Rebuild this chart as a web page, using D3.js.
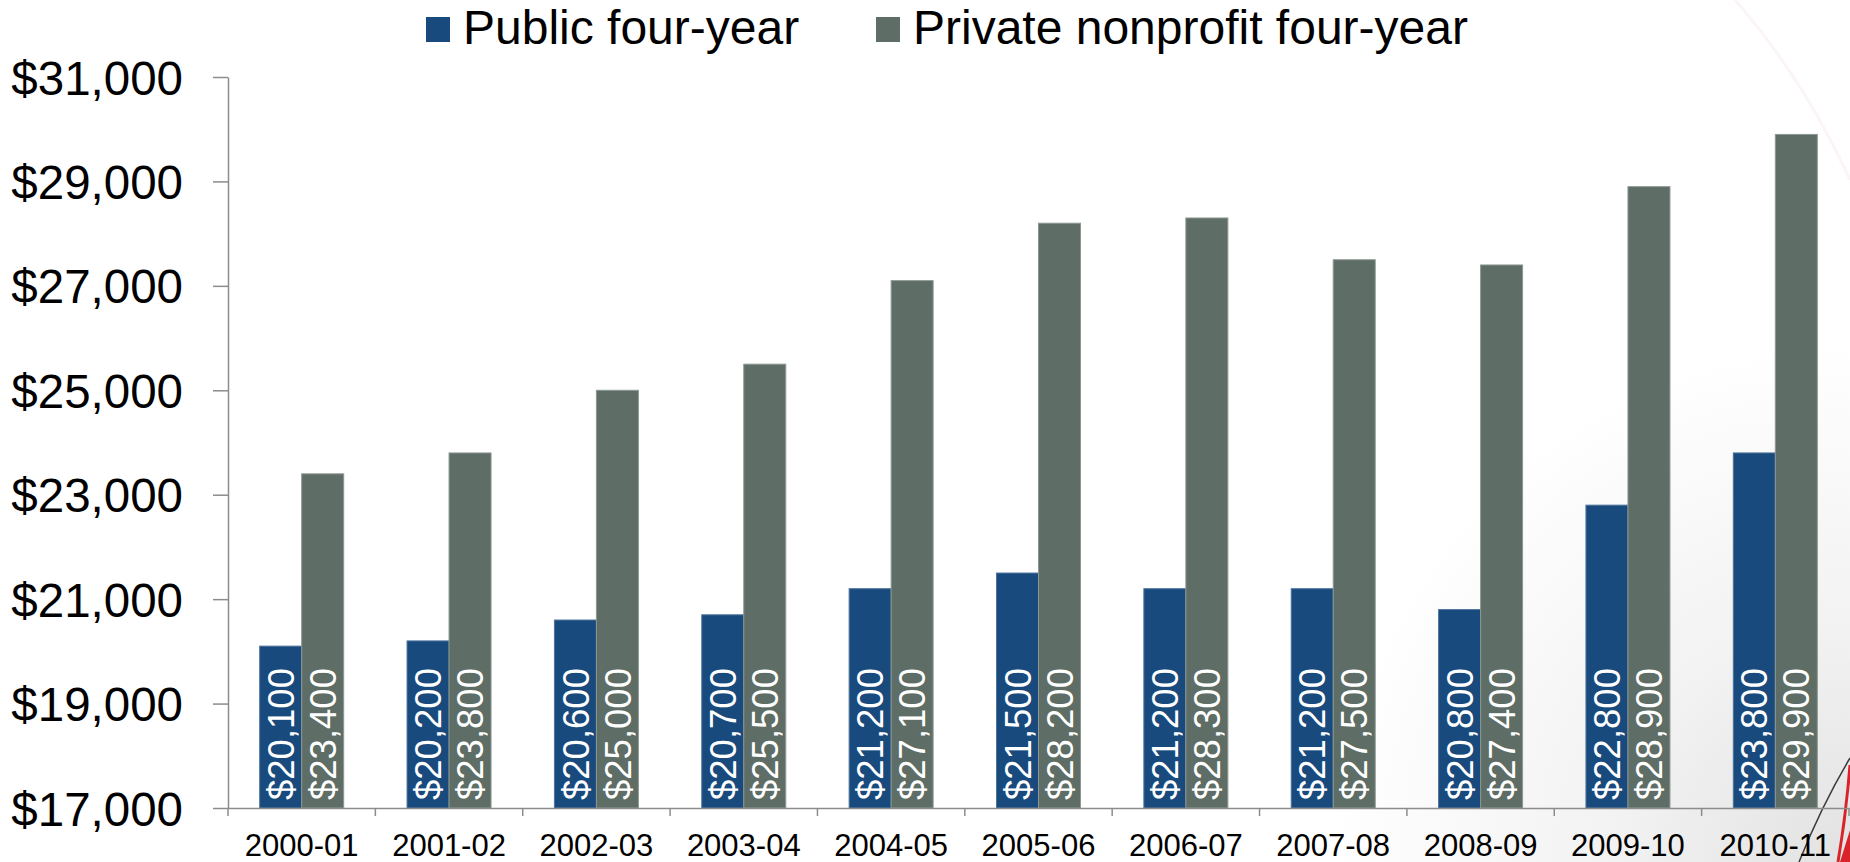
<!DOCTYPE html>
<html>
<head>
<meta charset="utf-8">
<script src="https://cdn.jsdelivr.net/npm/d3@7"></script>
<style>
  html, body { margin: 0; padding: 0; background: #ffffff; }
  svg { display: block; }
  text { font-family: "Liberation Sans", Arial, sans-serif; }
</style>
</head>
<body>
<svg id="chart" width="1850" height="862"></svg>
<script>
// Average published tuition, fees, room and board by academic year
const years = ["2000-01", "2001-02", "2002-03", "2003-04", "2004-05", "2005-06",
               "2006-07", "2007-08", "2008-09", "2009-10", "2010-11"];
const publicFourYear  = [20100, 20200, 20600, 20700, 21200, 21500, 21200, 21200, 20800, 22800, 23800];
const privateFourYear = [23400, 23800, 25000, 25500, 27100, 28200, 28300, 27500, 27400, 28900, 29900];
const seriesNames = ["Public four-year", "Private nonprofit four-year"];
const yTicks = [17000, 19000, 21000, 23000, 25000, 27000, 29000, 31000];

const W = 1850, H = 862;
const margin = { left: 228, right: 1, top: 77, bottom: 54 };
const colors = ["#194a7d", "#5e6d65"];
const strokes = ["#4d739b", "#8c9893"];

const svg = d3.select("#chart");

// slide background: soft grey shading toward the lower right, thin swoosh lines
const defs = svg.append("defs");
const rg = defs.append("radialGradient").attr("id", "shade")
  .attr("gradientUnits", "userSpaceOnUse")
  .attr("cx", 1850).attr("cy", 862).attr("r", 520);
rg.append("stop").attr("offset", "0").attr("stop-color", "#e2e2e2");
rg.append("stop").attr("offset", "0.45").attr("stop-color", "#f2f2f2");
rg.append("stop").attr("offset", "1").attr("stop-color", "#ffffff");
svg.append("rect").attr("width", W).attr("height", H).attr("fill", "url(#shade)");
svg.append("path").attr("d", "M1735,0 Q1805,80 1850,180")
  .attr("fill", "none").attr("stroke", "#fbf5f5").attr("stroke-width", 3);
svg.append("path").attr("d", "M1850,758 Q1822,805 1799,862")
  .attr("fill", "none").attr("stroke", "#3a3a3a").attr("stroke-width", 1.5);
svg.append("path").attr("d", "M1850,765 Q1846,815 1838,862")
  .attr("fill", "none").attr("stroke", "#d8232a").attr("stroke-width", 3);
svg.append("path").attr("d", "M1850,830 Q1845,846 1840,862 L1850,862 Z")
  .attr("fill", "#d8232a");

const x = d3.scaleBand()
  .domain(years)
  .range([margin.left, W - margin.right])
  .paddingInner(0).paddingOuter(0);

const y = d3.scaleLinear()
  .domain([17000, 31000])
  .range([H - margin.bottom, margin.top]);

const barW = x.bandwidth() * 0.285;
const fmt = v => "$" + d3.format(",")(v);

const rows = years.map((yr, i) => ({ year: yr, vals: [publicFourYear[i], privateFourYear[i]] }));

// bars
const groups = svg.append("g").selectAll("g")
  .data(rows).join("g")
  .attr("transform", d => `translate(${x(d.year) + x.bandwidth() / 2},0)`);

groups.selectAll("rect")
  .data(d => d.vals.map((v, k) => ({ v, k })))
  .join("rect")
  .attr("x", d => d.k === 0 ? -barW : 0)
  .attr("width", barW)
  .attr("y", d => y(d.v))
  .attr("height", d => y(17000) - y(d.v))
  .attr("fill", d => colors[d.k])
  .attr("stroke", d => strokes[d.k])
  .attr("stroke-width", 1);

// value labels, rotated, reading upward from the base of each bar
groups.selectAll("text")
  .data(d => d.vals.map((v, k) => ({ v, k })))
  .join("text")
  .attr("transform", d => `translate(${d.k === 0 ? -barW / 2 : barW / 2},${y(17000) - 8}) rotate(-90)`)
  .attr("dy", "0.36em")
  .attr("text-anchor", "start")
  .attr("fill", "#ffffff")
  .attr("font-size", 36.5)
  .text(d => fmt(d.v));

// y axis
const yAxis = svg.append("g")
  .attr("transform", `translate(${margin.left},0)`)
  .call(d3.axisLeft(y).tickValues(yTicks).tickFormat(fmt).tickSize(15).tickPadding(30).tickSizeOuter(0));
yAxis.selectAll("text").attr("font-size", 47.5).attr("fill", "#000").attr("dy", "0.36em");
yAxis.selectAll("line, path").attr("stroke", "#8c8c8c").attr("stroke-width", 1.5);

// x axis: labels under each year, tick marks between years
const xAxis = svg.append("g")
  .attr("transform", `translate(0,${y(17000)})`)
  .call(d3.axisBottom(x).tickSize(0).tickPadding(26).tickSizeOuter(0));
xAxis.selectAll("text").attr("font-size", 31).attr("fill", "#000").attr("dy", "0.71em");
xAxis.select("path.domain").attr("stroke", "#8c8c8c").attr("stroke-width", 1.5);
const bounds = d3.range(years.length + 1).map(i => x.range()[0] + i * x.step());
xAxis.selectAll("line.bound").data(bounds).join("line")
  .attr("class", "bound")
  .attr("x1", d => d).attr("x2", d => d)
  .attr("y1", 0).attr("y2", 8)
  .attr("stroke", "#8c8c8c").attr("stroke-width", 1.5);

// legend
const legendX = [426, 876];
const legend = svg.append("g");
seriesNames.forEach((name, k) => {
  legend.append("rect")
    .attr("x", legendX[k]).attr("y", 17).attr("width", 24).attr("height", 25)
    .attr("fill", colors[k]);
  legend.append("text")
    .attr("x", legendX[k] + 37).attr("y", 44)
    .attr("font-size", 48).attr("fill", "#000")
    .text(name);
});
</script>
</body>
</html>
